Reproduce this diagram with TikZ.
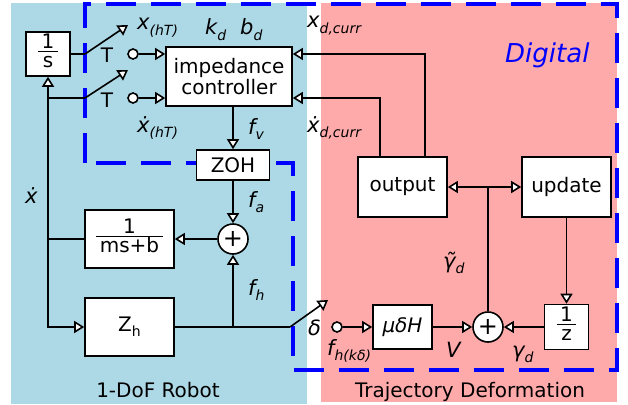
\documentclass[tikz,border=0pt]{standalone}
\usepackage{fontspec}
\setmainfont{DejaVu Sans}
\usepackage{tikz}
\usetikzlibrary{arrows.meta,calc,positioning}
\definecolor{fondorobot}{HTML}{ADD8E6}
\definecolor{fondotray}{HTML}{FFAAAA}
\definecolor{azuldig}{HTML}{0000FF}
\newcommand{\indice}[1]{\raisebox{-0.45ex}{\fontsize{14}{14}\selectfont #1}}
\newcommand{\bruch}[2]{{\setlength{\arrayrulewidth}{1.3pt}\begin{tabular}{@{\,}c@{\,}}#1\\[-4pt]\hline\rule{0pt}{0.78em}#2\end{tabular}}}
\tikzset{
  bloque/.style={draw=black,fill=white,line width=1.6pt,inner sep=0pt,align=center,font=\fontsize{20}{23}\selectfont},
  bruchbox/.style={bloque,font=\fontsize{20}{20}\selectfont},
  suma/.style={circle,draw=black,fill=white,line width=1.6pt,inner sep=0pt,minimum size=30pt,font=\fontsize{24}{24}\selectfont},
  contacto/.style={circle,draw=black,fill=white,line width=1.6pt,inner sep=0pt,minimum size=10pt},
  linea/.style={draw=black,line width=1.6pt},
  flecha/.style={linea,-{Triangle[fill=white,length=10pt,width=12pt]}},
  etiqueta/.style={anchor=base west,inner sep=0pt,font=\fontsize{21}{23}\selectfont\itshape},
  titulo/.style={anchor=base,inner sep=0pt,font=\fontsize{20}{22}\selectfont},
  zona/.style={draw=azuldig,line width=4pt,dash pattern=on 30pt off 15pt},
}
\begin{document}
\begin{tikzpicture}[x=1pt,y=-1pt]
\useasboundingbox (0,0) rectangle (628,404);
\fill[fondorobot] (11,3) rectangle (307,404);
\fill[fondotray] (321,3) rectangle (617,402);
\draw[zona] (85,163) -- (85,4) -- (617,4) -- (617,370) -- (293,370) -- (293,163) -- cycle;
\node[font=\fontsize{26}{28}\selectfont\itshape,text=azuldig,anchor=base west,inner sep=0pt] (digital) at (505,62) {Digital};
\node[titulo] (robot) at (158,397) {1-DoF Robot};
\node[titulo] (tray) at (470,397) {Trajectory Deformation};
\coordinate (px) at (85,54);
\coordinate (ax) at (128,25);
\coordinate (pv) at (85,98);
\coordinate (av) at (128,70);
\coordinate (pf) at (290,327);
\coordinate (af) at (328,300);
\node[bruchbox,minimum width=44pt,minimum height=44pt] (integ) at (48,54) {\bruch{1}{s}};
\node[bloque,minimum width=126pt,minimum height=59pt] (imp) at (229,76.5) {impedance\\[-2pt]controller};
\node[bloque,minimum width=73pt,minimum height=30pt] (zoh) at (233,165) {ZOH};
\node[bruchbox,minimum width=89pt,minimum height=58pt] (adm) at (129.5,239) {\bruch{1}{ms+b}};
\node[bloque,minimum width=89pt,minimum height=58pt] (zh) at (129.5,327) {Z\indice{h}};
\node[bloque,minimum width=89pt,minimum height=60pt] (outp) at (402.5,187) {output};
\node[bloque,minimum width=89pt,minimum height=60pt] (upd) at (566.5,187) {update};
\node[bloque,minimum width=59pt,minimum height=44pt,font=\fontsize{20}{23}\selectfont\itshape] (gain) at (402.5,327) {μδH};
\node[bruchbox,minimum width=44pt,minimum height=45pt] (delay) at (566.5,327) {\bruch{1}{z}};
\node[suma] (sumf) at (233,239) {+};
\node[suma] (sumg) at (488,327) {+};
\node[contacto] (cx) at (133,54) {};
\node[contacto] (cv) at (133,98) {};
\node[contacto] (cf) at (337,327) {};
\coordinate (jn) at (sumg.north |- outp.east);
\draw[linea] (integ.east) -- (px);
\draw[flecha] (px) -- (ax);
\draw[linea] (integ.south |- cv) -- (pv);
\draw[flecha] (pv) -- (av);
\draw[flecha] (cx) -- (cx -| imp.west);
\draw[flecha] (cv) -- (cv -| imp.west);
\draw[flecha] ([xshift=22.5pt]outp.north) |- (imp.east |- cx);
\draw[flecha] ([xshift=-22.5pt]outp.north) |- (imp.east |- cv);
\draw[flecha] (zoh.north |- imp.south) -- (zoh.north);
\draw[flecha] (zoh.south) -- (sumf.north);
\draw[flecha] (sumf.west) -- (adm.east);
\draw[flecha] (adm.west) -| (integ.south);
\draw[flecha] (integ.south |- adm.west) |- (zh.west);
\draw[linea] (zh.east) -- (pf);
\draw[flecha] (pf) -- (af);
\draw[flecha] (sumf.south |- zh.east) -- (sumf.south);
\draw[flecha] (cf) -- (gain.west);
\draw[flecha] (gain.east) -- (sumg.west);
\draw[flecha] (delay.west) -- (sumg.east);
\draw[flecha] (upd.south) -- (delay.north);
\draw[linea] (sumg.north) -- (jn);
\draw[flecha] (jn) -- (outp.east);
\draw[flecha] (jn) -- (upd.west);
\node[font=\fontsize{20}{22}\selectfont,anchor=base,inner sep=0pt] (tx) at (107,63) {T};
\node[font=\fontsize{20}{22}\selectfont,anchor=base,inner sep=0pt] (tv) at (107,107) {T};
\node[etiqueta] (lxh) at (137,30) {x\indice{(hT)}};
\node[etiqueta] (lvh) at (137,132) {ẋ\indice{(hT)}};
\node[etiqueta] (lkd) at (205,35) {k\indice{d}};
\node[etiqueta] (lbd) at (240,35) {b\indice{d}};
\node[etiqueta] (lxd) at (307,28) {x\indice{d,curr}};
\node[etiqueta] (lvd) at (307,132) {ẋ\indice{d,curr}};
\node[etiqueta] (lfv) at (248,134) {f\indice{v}};
\node[etiqueta] (lfa) at (248,207) {f\indice{a}};
\node[etiqueta] (lfh) at (248,295) {f\indice{h}};
\node[etiqueta] (lvel) at (25,203) {ẋ};
\node[etiqueta] (ldel) at (308,335) {δ};
\node[etiqueta] (lfk) at (327,355) {f\indice{h(kδ)}};
\node[etiqueta] (lv) at (446,357) {V};
\node[etiqueta] (lgam) at (512,357) {γ\indice{d}};
\node[etiqueta] (lgt) at (443,268) {γ̃\indice{d}};
\end{tikzpicture}
\end{document}
